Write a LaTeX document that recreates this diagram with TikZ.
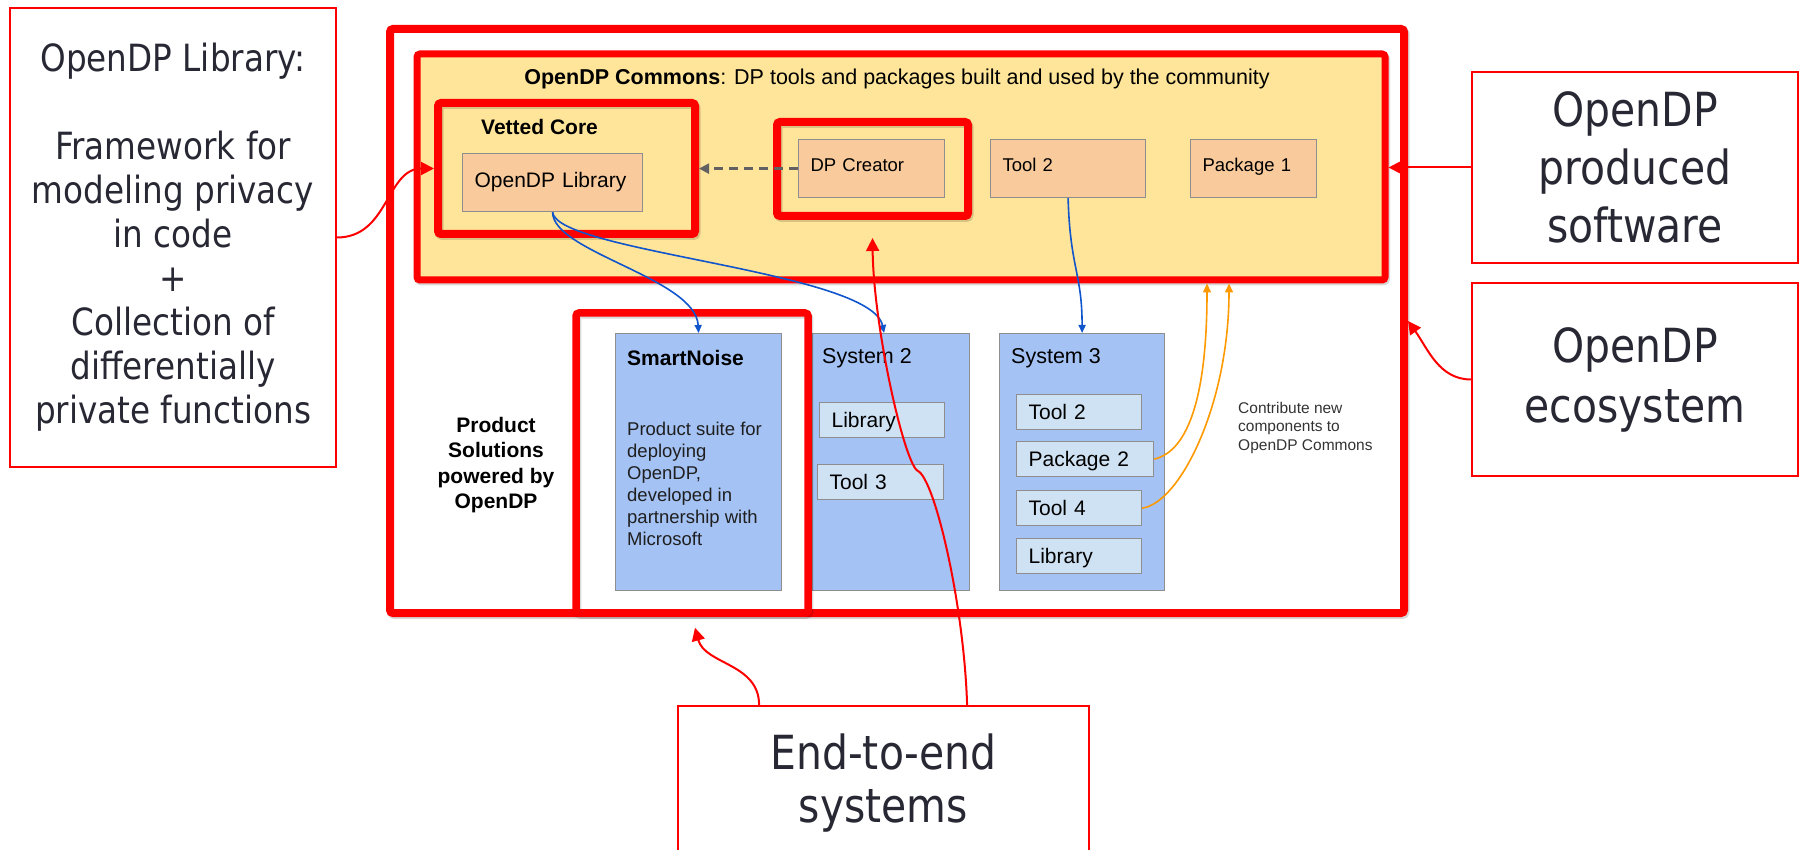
\documentclass[tikz,border=0pt]{standalone}
\usepackage{fontspec}
\setmainfont{Liberation Sans}
\newfontfamily\notefont[FakeStretch=0.87]{DejaVu Sans}
\usetikzlibrary{arrows.meta}

\definecolor{opred}{HTML}{FF0000}
\definecolor{commonsyellow}{HTML}{FFE599}
\definecolor{peach}{HTML}{F9CB9C}
\definecolor{sysblue}{HTML}{A4C2F4}
\definecolor{paleblue}{HTML}{CFE2F3}
\definecolor{boxgray}{HTML}{8E8E8E}
\definecolor{linkblue}{HTML}{1155CC}
\definecolor{linkorange}{HTML}{FF9900}
\definecolor{notetext}{HTML}{282834}

\tikzset{
  redframe/.style={draw=opred, line width=#1, rounded corners=3pt, inner sep=0pt,
    preaction={draw=black, draw opacity=0.15, line width=#1,
      transform canvas={xshift=1.5pt,yshift=-2pt}}},
  redframe/.default=7.5pt,
  note/.style={draw=opred, line width=1.8pt, fill=white, align=center,
    text=notetext, inner sep=0pt},
  peachbox/.style={draw=boxgray, fill=peach, line width=1.2pt, inner xsep=12pt,
    inner ysep=0pt, minimum height=58, align=left, anchor=north west,
    text depth=0.8em, font=\fontsize{18.5}{22}\selectfont},
  palebox/.style={draw=boxgray, fill=paleblue, line width=1.2pt, inner xsep=12pt,
    inner ysep=0pt, minimum height=35, align=left, anchor=north west,
    text depth=0pt, font=\fontsize{21}{25}\selectfont},
  sysbox/.style={draw=boxgray, fill=sysblue, line width=1.2pt, inner sep=0pt,
    anchor=north west, minimum height=257},
  sysname/.style={anchor=west, inner sep=0pt, font=\fontsize{21.5}{25}\selectfont},
  boldname/.style={anchor=west, inner sep=0pt, font=\bfseries\fontsize{21}{25}\selectfont},
  notearrow/.style={draw=opred, line width=2pt, -{Triangle[length=13pt,width=13pt]}},
  linkarrow/.style={draw=linkblue, line width=1.6pt, -{Triangle[length=8pt,width=7pt]}},
  backarrow/.style={draw=linkorange, line width=1.6pt, -{Triangle[length=9pt,width=8pt]}},
  usesarrow/.style={draw=black!62, line width=2.2pt, dash pattern=on 9pt off 6pt,
    -{Triangle[length=10pt,width=10pt]}}
}

\begin{document}
\begin{tikzpicture}[x=1pt,y=-1pt]
  \useasboundingbox (0,0) rectangle (1805,850);
  \fill[white] (0,0) rectangle (1805,850);
  \clip (0,0) rectangle (1805,850);

  % ecosystem and commons
  \node[redframe=8pt, fill=white, minimum width=1014, minimum height=584] (eco) at (897,321) {};
  \node[redframe=7pt, fill=commonsyellow, minimum width=968, minimum height=226] (commons) at (901,167) {};
  \node[font=\fontsize{21.5}{25}\selectfont, inner sep=0pt] (ctitle) at (897,79)
    {\textbf{OpenDP Commons}: DP tools and packages built and used by the community};

  % commons components
  \node[peachbox, text width=156, text depth=0.62em, font=\fontsize{21}{25}\selectfont] (odplib) at (462,153) {OpenDP Library};
  \node[peachbox, text width=122] (dpc) at (798,139) {DP Creator};
  \node[peachbox, text width=131] (tool2) at (990,139) {Tool 2};
  \node[peachbox, text width=102] (pkg1) at (1190,139) {Package 1};
  \node[redframe=8pt, minimum width=257, minimum height=131] (vetted) at (566.5,168.5) {};
  \node[boldname] (vtitle) at ([shift={(47,28)}]vetted.north west) {Vetted Core};
  \node[redframe=8pt, minimum width=191, minimum height=94] (dpframe) at (872.5,169) {};

  % product solutions
  \node[font=\bfseries\fontsize{21}{25.5}\selectfont, align=center, inner sep=0pt] (ptitle) at (496,465)
    {Product\\Solutions\\powered by\\OpenDP};
  \node[sysbox, minimum width=166] (sn) at (615,333) {};
  \node[sysbox, minimum width=157] (sys2) at (812,333) {};
  \node[sysbox, minimum width=165] (sys3) at (999,333) {};
  \node[boldname] (sntitle) at ([shift={(12,25)}]sn.north west) {SmartNoise};
  \node[anchor=west, inner sep=0pt, align=left, text=black!88,
    font=\fontsize{18.5}{22}\selectfont] (sntext) at ([shift={(12,151)}]sn.north west)
    {Product suite for\\deploying\\OpenDP,\\developed in\\partnership with\\Microsoft};
  \node[sysname] (s2title) at ([shift={(10,25)}]sys2.north west) {System 2};
  \node[sysname] (s3title) at ([shift={(12,25)}]sys3.north west) {System 3};
  \node[palebox, text width=101] (s2lib) at (819,402) {Library};
  \node[palebox, text width=102] (tool3) at (817,464) {Tool 3};
  \node[palebox, text width=101] (s3tool2) at (1016,394) {Tool 2};
  \node[palebox, text width=113] (pkg2) at (1016,441) {Package 2};
  \node[palebox, text width=101] (tool4) at (1016,490) {Tool 4};
  \node[palebox, text width=101] (s3lib) at (1016,538) {Library};
  \node[redframe=7.5pt, minimum width=232, minimum height=300] (snframe) at (692,463) {};
  \node[anchor=west, inner sep=0pt, align=left, text=black!80,
    font=\fontsize{15.5}{18.5}\selectfont] (contrib) at (1238,427.5)
    {Contribute new\\components to\\OpenDP Commons};

  % links inside the diagram
  \draw[usesarrow] (dpc.west) -- (dpc.west -| vetted.east);
  \draw[linkarrow] (odplib.south) .. controls +(0,40) and +(-3,-55) .. (sn.north);
  \draw[linkarrow] (odplib.south) .. controls +(4,40) and +(-13,-62) .. ([xshift=-7pt]sys2.north);
  \draw[linkarrow] (tool2.south) .. controls +(2,70) and +(0,-60) .. (sys3.north);
  \draw[backarrow] (pkg2.east) .. controls +(35,-8) and +(0,110) .. ([xshift=306pt]commons.south);
  \draw[backarrow] (tool4.east) .. controls +(38,-5) and +(0,120) .. ([xshift=328pt]commons.south);

  % notes round the diagram
  \node[note, minimum width=326, minimum height=459, font=\notefont\fontsize{37.5}{44}\selectfont] (libnote) at (173,237.5)
    {OpenDP Library:\\[44pt]Framework for\\modeling privacy\\in code\\+\\Collection of\\differentially\\private functions};
  \node[note, minimum width=326, minimum height=191, font=\notefont\fontsize{47}{58}\selectfont] (softnote) at (1635,167.5)
    {OpenDP\\produced\\software};
  \node[note, minimum width=326, minimum height=193, font=\notefont\fontsize{47}{60}\selectfont] (econote) at (1635,379.5)
    {OpenDP\\ecosystem};
  \node[note, minimum width=411, minimum height=155, font=\notefont\fontsize{47}{53}\selectfont] (e2enote) at (883.5,783.5)
    {End-to-end\\systems};

  \draw[notearrow] (libnote.east) .. controls +(52,0) and +(-48,0) .. (vetted.west);
  \draw[notearrow] (softnote.west) -- (softnote.west -| commons.east);
  \draw[notearrow] (econote.west) .. controls +(-32,0) and +(20,28) .. (eco.east);
  \draw[notearrow] ([xshift=82pt]e2enote.north west) .. controls +(0,-42) and +(10,37) .. ([shift={(3,11)}]snframe.south);
  \coordinate (jog) at (918,471);
  \draw[notearrow] ([xshift=290pt]e2enote.north west) .. controls +(-3,-100) and +(17,9) .. (jog)
    .. controls +(-13,-5) and +(1,90) .. ([shift={(0,18)}]dpframe.south);
\end{tikzpicture}
\end{document}
